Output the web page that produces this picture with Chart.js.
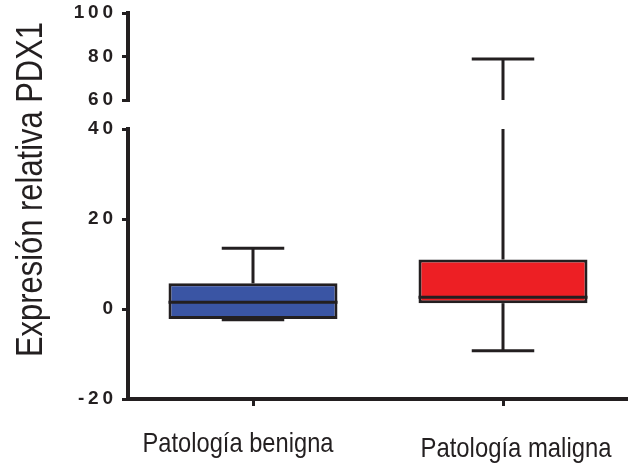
<!DOCTYPE html>
<html>
<head>
<meta charset="utf-8">
<script src="https://cdn.jsdelivr.net/npm/chart.js@4/dist/chart.umd.min.js"></script>
<style>
  body { margin: 0; background: #fff; }
  #wrap { width: 628px; height: 470px; }
</style>
</head>
<body>
<div id="wrap"><canvas id="boxChart" width="628" height="470"></canvas></div>
<script>
    // box plot values
    const categories = ["Patología benigna", "Patología maligna"];
    const minVals = [-2.4, -9.3];
    const q1Vals = [-2.2, 1.3];
    const medianVals = [1.5, 2.6];
    const q3Vals = [5.7, 11.0];
    const maxVals = [13.5, 78.8];
    const boxColors = ["#3A55A4", "#ED1F24"];
    const yTitle = "Expresión relativa PDX1";

    const ink = "#231F20";
    const sans = "'Liberation Sans', Arial, sans-serif";

    function spaced(v) {
        return String(v).split("").join("\u2009");
    }

    function line(ctx, x1, y1, x2, y2) {
        ctx.beginPath();
        ctx.moveTo(x1, y1);
        ctx.lineTo(x2, y2);
        ctx.stroke();
    }

    // narrow text: Arial squeezed sideways to a given length, like the original figure
    function squeezed(ctx, text, x, y, size, len, rotate) {
        ctx.save();
        ctx.font = size + "px " + sans;
        const k = len / ctx.measureText(text).width;
        ctx.translate(x, y);
        if (rotate) ctx.rotate(-Math.PI / 2);
        ctx.scale(k, 1);
        ctx.fillStyle = ink;
        ctx.textAlign = "center";
        ctx.textBaseline = "alphabetic";
        ctx.fillText(text, 0, 0);
        ctx.restore();
    }

    const labelShift = [-15, 13];
    const labelDrop = [53, 58];

    const boxPlotPlugin = {
        id: "boxplot",
        // whiskers behind the boxes, split over both axis segments
        beforeDatasetsDraw(chart) {
            const { ctx, scales } = chart;
            const segs = [scales.yTop, scales.yLow];
            const step = scales.x.getPixelForValue(1) - scales.x.getPixelForValue(0);
            const capHalf = step * 0.125;
            ctx.save();
            ctx.strokeStyle = ink;
            ctx.lineWidth = 3;
            categories.forEach((c, i) => {
                const cx = scales.x.getPixelForValue(i);
                [[q3Vals[i], maxVals[i]], [minVals[i], q1Vals[i]]].forEach(([lo, hi]) => {
                    segs.forEach(s => {
                        const a = Math.max(lo, s.min);
                        const b = Math.min(hi, s.max);
                        if (a >= b) return;
                        line(ctx, cx, s.getPixelForValue(a), cx, s.getPixelForValue(b));
                    });
                });
                [minVals[i], maxVals[i]].forEach(v => {
                    const s = segs.find(s => v >= s.min && v <= s.max);
                    if (!s) return;
                    const y = s.getPixelForValue(v);
                    line(ctx, cx - capHalf, y, cx + capHalf, y);
                });
            });
            ctx.restore();
        },
        afterDatasetsDraw(chart) {
            const { ctx, scales } = chart;
            const meta = chart.getDatasetMeta(0);
            ctx.save();
            ctx.strokeStyle = ink;
            ctx.lineWidth = 3;
            meta.data.forEach((bar, i) => {
                const y = scales.yLow.getPixelForValue(medianVals[i]);
                line(ctx, bar.x - bar.width / 2, y, bar.x + bar.width / 2, y);
            });
            ctx.restore();
        },
        afterDraw(chart) {
            const { ctx, chartArea, scales } = chart;
            categories.forEach((c, i) => {
                const cx = scales.x.getPixelForValue(i) + labelShift[i];
                squeezed(ctx, c, cx, chartArea.bottom + labelDrop[i], 28, 191, false);
            });
            squeezed(ctx, yTitle, 42, (chartArea.top + chartArea.bottom) / 2 - 16.5, 36, 335, true);
        }
    };

    // stacked axes would otherwise push the plot down by a whole label height
    function fixWidth(s) {
        s.width = 128;
        s.paddingTop = 0;
        s.paddingBottom = 0;
    }

    const yCommon = {
        type: "linear",
        position: "left",
        stack: "broken",
        afterFit: fixWidth,
        border: { color: ink, width: 4 },
        grid: { drawOnChartArea: false, color: ink, lineWidth: 3, tickLength: 6 },
        ticks: {
            stepSize: 20,
            autoSkip: false,
            color: ink,
            padding: 9,
            font: { family: sans, size: 19, weight: "bold" },
            callback: v => spaced(v)
        }
    };

    new Chart(document.getElementById("boxChart"), {
        type: "bar",
        data: {
            labels: categories,
            datasets: [{
                data: q1Vals.map((q, i) => [q, q3Vals[i]]),
                yAxisID: "yLow",
                backgroundColor: boxColors,
                borderColor: ink,
                borderWidth: 3,
                borderSkipped: false,
                barPercentage: 0.676,
                categoryPercentage: 1
            }]
        },
        options: {
            responsive: false,
            animation: false,
            layout: { padding: { top: 13, left: 0, right: 0, bottom: 0 } },
            plugins: { legend: { display: false }, tooltip: { enabled: false } },
            scales: {
                // stacked axes are placed bottom-up in the order given
                yLow: Object.assign({}, yCommon, { min: -20, max: 40, stackWeight: 270 }),
                yGap: {
                    type: "linear", position: "left", stack: "broken", stackWeight: 29,
                    min: 0, max: 1,
                    afterFit: fixWidth,
                    border: { display: false },
                    grid: { display: false },
                    ticks: { display: false }
                },
                yTop: Object.assign({}, yCommon, { min: 60, max: 100, stackWeight: 87 }),
                x: {
                    afterFit: s => { s.height = 71; },
                    border: { color: ink, width: 4 },
                    grid: { drawOnChartArea: false, offset: false, color: ink, lineWidth: 3, tickLength: 7 },
                    ticks: { display: false }
                }
            }
        },
        plugins: [boxPlotPlugin]
    });
</script>
</body>
</html>
